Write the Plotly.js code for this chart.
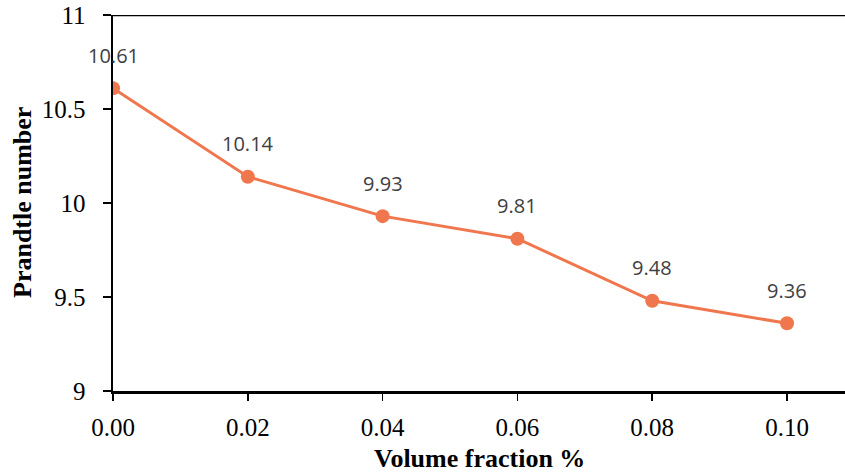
<!DOCTYPE html>
<html><head><meta charset="utf-8">
<script src="https://cdn.plot.ly/plotly-3.0.1.min.js"></script>
<style>html,body{margin:0;padding:0;background:#fff}#c{width:845px;height:476px}</style>
</head><body><div id="c"></div>
<script>
const volumeFraction = [0.00, 0.02, 0.04, 0.06, 0.08, 0.10];
const prandtl = [10.61, 10.14, 9.93, 9.81, 9.48, 9.36];
const labels = ["10.61", "10.14", "9.93", "9.81", "9.48", "9.36"];
const xTicks = [0.00, 0.02, 0.04, 0.06, 0.08, 0.10];
const xTickText = ["0.00", "0.02", "0.04", "0.06", "0.08", "0.10"];
const yTicks = [9, 9.5, 10, 10.5, 11];
const yTickText = ["9", "9.5", "10", "10.5", "11"];

const serif = 'Liberation Serif, Times New Roman, serif';
const color = '#F0764E';
const trace = {
  x: volumeFraction, y: prandtl, type: 'scatter', mode: 'lines+markers',
  line: {color: color, width: 3}, marker: {color: color, size: 14},
  hoverinfo: 'none'
};
const annotations = volumeFraction.map((x, i) => ({
  x: x, y: prandtl[i], text: labels[i], showarrow: false, yshift: 33,
  font: {family: 'Open Sans, Noto Sans, sans-serif', size: 20, color: '#404040'}
}));
annotations.push({xref:'paper', yref:'paper', x:0.5, y:0, yshift:-67, xanchor:'center', yanchor:'middle',
  text:'<b>Volume fraction %</b>', showarrow:false,
  font:{family: serif, size:26, color:'#000'}});
annotations.push({xref:'paper', yref:'paper', x:0, xshift:-91, y:0.5, xanchor:'center', yanchor:'middle',
  textangle:-90, text:'<b>Prandtle number</b>', showarrow:false,
  font:{family: serif, size:26, color:'#000'}});
const layout = {
  width: 845, height: 476,
  margin: {l: 113, r: 0, t: 15, b: 85},
  paper_bgcolor: '#fff', plot_bgcolor: '#fff',
  showlegend: false,
  font: {family: serif, size: 25, color: '#000'},
  xaxis: {
    range: [0, 0.1086], tickvals: xTicks, ticktext: xTickText,
    showgrid: false, zeroline: false, showline: true, linecolor: '#000', linewidth: 2.5,
    ticks: 'outside', ticklen: 7, tickwidth: 1.5, tickcolor: '#000', ticklabelstandoff: 5,
    tickfont: {family: serif, size: 25, color: '#000'}
  },
  yaxis: {
    range: [9, 11], tickvals: yTicks, ticktext: yTickText,
    showgrid: false, zeroline: false, showline: true, linecolor: '#000', linewidth: 2.5,
    ticks: 'outside', ticklen: 8, tickwidth: 1.5, tickcolor: '#000', ticklabelstandoff: 12,
    tickfont: {family: serif, size: 25, color: '#000'}
  },
  shapes: [{type: 'line', xref: 'paper', yref: 'y', x0: 0, x1: 1, y0: 11, y1: 11,
    line: {color: '#000', width: 2.5}}],
  annotations: annotations
};
Plotly.newPlot('c', [trace], layout, {displayModeBar: false, staticPlot: true});
</script></body></html>
